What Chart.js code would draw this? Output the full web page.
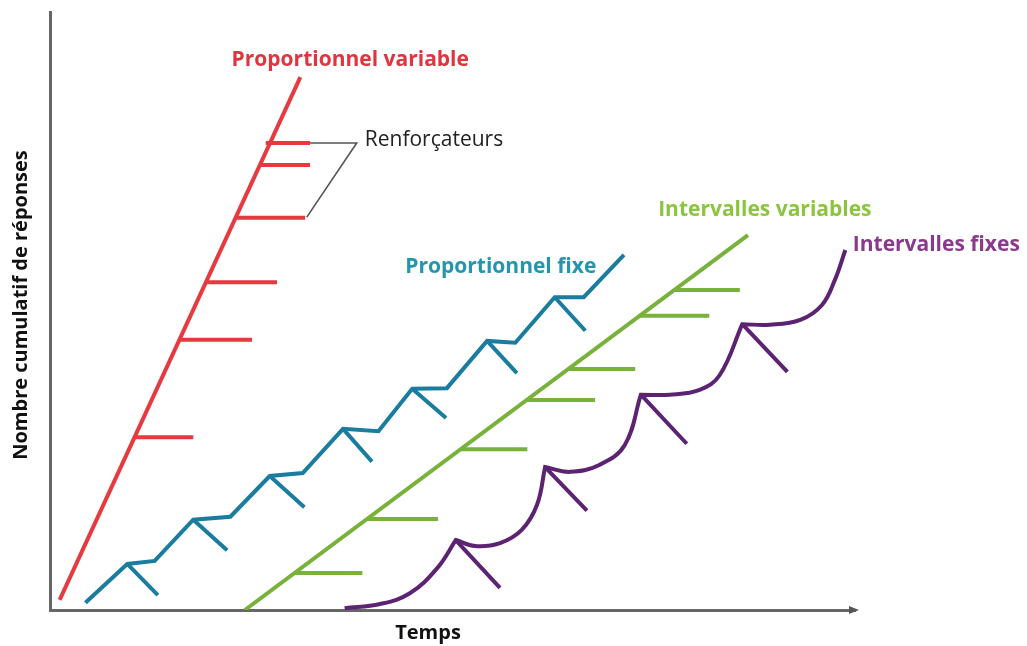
<!DOCTYPE html>
<html lang="fr">
<head>
    <meta charset="UTF-8">
    <title>Programmes de renforcement</title>
    <script src="https://cdn.jsdelivr.net/npm/chart.js"></script>
    <style>
        html, body {
            margin: 0;
            padding: 0;
            background: #ffffff;
        }
        .wrap {
            width: 1027px;
            height: 646px;
            position: relative;
        }
    </style>
</head>
<body>
    <div class="wrap">
        <canvas id="schedules"></canvas>
    </div>

    <script>
        // Temps (x) et nombre cumulatif de réponses (y), unités arbitraires 0-100

        // Proportionnel variable
        const pvTime = [1.2, 31.1];
        const pvResp = [1.7, 89.1];
        const pvReinfTime0 = [10.5, 16.1, 19.4, 23.0, 26.0, 26.8];
        const pvReinfTime1 = [17.8, 25.1, 28.2, 31.7, 32.3, 32.3];
        const pvReinfResp = [28.9, 45.2, 54.8, 65.6, 74.4, 78.1];

        // Proportionnel fixe
        const pfTime = [4.4, 9.6, 13.0, 17.8, 22.4, 27.3, 31.4, 36.4, 40.8, 45.0, 49.3, 54.3, 57.8, 62.7, 66.3, 71.3];
        const pfResp = [1.2, 7.7, 8.2, 15.1, 15.6, 22.4, 22.9, 30.3, 29.9, 37.0, 37.1, 45.0, 44.7, 52.3, 52.3, 59.4];
        const pfReinfTime0 = [9.6, 17.8, 27.3, 36.4, 45.0, 54.3, 62.7];
        const pfReinfResp0 = [7.7, 15.1, 22.4, 30.3, 37.0, 45.0, 52.3];
        const pfReinfTime1 = [13.4, 22.0, 31.6, 40.0, 49.2, 58.0, 66.5];
        const pfReinfResp1 = [2.5, 10.0, 17.2, 24.8, 32.1, 39.6, 46.7];

        // Intervalles variables
        const ivTime = [24.2, 86.7];
        const ivResp = [0.0, 62.7];
        const ivReinfTime0 = [30.4, 39.4, 51.1, 59.2, 64.4, 73.2, 77.5];
        const ivReinfTime1 = [38.8, 48.2, 59.3, 67.7, 72.7, 81.9, 85.7];
        const ivReinfResp = [6.2, 15.2, 26.9, 35.1, 40.3, 49.2, 53.5];

        // Intervalles fixes (chaque renforcement est répété pour garder la pointe)
        const ifTime = [36.6, 41.0, 44.7, 48.1, 50.4, 50.4, 52.8, 55.9, 58.6, 60.5, 61.5, 61.5, 64.6, 68.3, 71.4, 73.4, 73.4, 77.0, 80.7, 83.2, 86.0, 86.0, 89.4, 93.2, 95.9, 97.5, 98.8];
        const ifResp = [0.3, 1.0, 2.8, 7.0, 11.7, 11.7, 10.7, 11.2, 13.4, 17.6, 23.9, 23.9, 23.1, 24.3, 27.6, 36.0, 36.0, 36.0, 36.8, 39.3, 47.8, 47.8, 47.7, 48.5, 51.0, 55.2, 60.2];
        const ifReinfTime0 = [50.4, 61.5, 73.4, 86.0];
        const ifReinfResp0 = [11.7, 23.9, 36.0, 47.8];
        const ifReinfTime1 = [55.9, 66.7, 79.1, 91.6];
        const ifReinfResp1 = [3.7, 16.6, 27.8, 39.8];

        // Renvoi "Renforçateurs"
        const calloutTime = [32.3, 38.1, 31.9];
        const calloutResp = [78.1, 78.1, 65.7];

        const RED = '#e53a3f';
        const BLUE = '#1a7d9f';
        const GREEN = '#79b23b';
        const PURPLE = '#5c2373';

        function toPoints(xs, ys) {
            return xs.map((x, i) => ({ x: x, y: ys[i] }));
        }

        // petits traits séparés par des trous
        function toSegments(x0, y0, x1, y1) {
            const pts = [];
            for (let i = 0; i < x0.length; i++) {
                pts.push({ x: x0[i], y: y0[i] });
                pts.push({ x: x1[i], y: y1[i] });
                pts.push({ x: x1[i], y: null });
            }
            return pts;
        }

        function lineSet(label, data, color, width, tension) {
            return {
                label: label,
                data: data,
                borderColor: color,
                borderWidth: width,
                tension: tension || 0,
                pointRadius: 0,
                spanGaps: false,
                borderCapStyle: 'butt',
                borderJoinStyle: 'miter',
                fill: false
            };
        }

        const LABEL_FONT = 'bold 21px "Open Sans"';
        const textLabels = [
            { text: 'Proportionnel variable', x: 37.3, y: 92.0, color: '#e0343f' },
            { text: 'Proportionnel fixe', x: 56.0, y: 57.4, color: '#2395ad' },
            { text: 'Intervalles variables', x: 88.8, y: 66.9, color: '#8cc43f' },
            { text: 'Intervalles fixes', x: 110.1, y: 61.0, color: '#8a3a8c' }
        ];

        const drawExtras = {
            id: 'drawExtras',
            afterDraw(chart) {
                const ctx = chart.ctx;
                const xs = chart.scales.x;
                const ys = chart.scales.y;
                const area = chart.chartArea;
                ctx.save();

                // flèche au bout de l'axe du temps
                ctx.fillStyle = '#555';
                ctx.beginPath();
                ctx.moveTo(area.right + 4, area.bottom);
                ctx.lineTo(area.right - 6, area.bottom - 4);
                ctx.lineTo(area.right - 6, area.bottom + 4);
                ctx.closePath();
                ctx.fill();

                ctx.textAlign = 'center';
                ctx.textBaseline = 'middle';
                ctx.font = LABEL_FONT;
                textLabels.forEach(l => {
                    ctx.fillStyle = l.color;
                    ctx.fillText(l.text, xs.getPixelForValue(l.x), ys.getPixelForValue(l.y));
                });

                ctx.font = '21px "Open Sans"';
                ctx.fillStyle = '#222';
                ctx.textAlign = 'left';
                ctx.fillText('Renforçateurs', xs.getPixelForValue(39.1), ys.getPixelForValue(78.6));

                // titres des axes
                ctx.fillStyle = '#111';
                ctx.font = 'bold 20px "Open Sans"';
                ctx.textAlign = 'center';
                ctx.fillText('Temps', 428, 633);
                ctx.translate(21, 305);
                ctx.rotate(-Math.PI / 2);
                ctx.fillText('Nombre cumulatif de réponses', 0, 0);
                ctx.restore();
            }
        };

        const ctx = document.getElementById('schedules').getContext('2d');
        new Chart(ctx, {
            type: 'line',
            data: {
                datasets: [
                    lineSet('Renforçateurs', toPoints(calloutTime, calloutResp), '#555', 1.6),
                    lineSet('Proportionnel variable', toPoints(pvTime, pvResp), RED, 4),
                    lineSet('PV renforcements', toSegments(pvReinfTime0, pvReinfResp, pvReinfTime1, pvReinfResp), RED, 4),
                    lineSet('Proportionnel fixe', toPoints(pfTime, pfResp), BLUE, 4),
                    lineSet('PF renforcements', toSegments(pfReinfTime0, pfReinfResp0, pfReinfTime1, pfReinfResp1), BLUE, 4),
                    lineSet('Intervalles variables', toPoints(ivTime, ivResp), GREEN, 4),
                    lineSet('IV renforcements', toSegments(ivReinfTime0, ivReinfResp, ivReinfTime1, ivReinfResp), GREEN, 4),
                    lineSet('Intervalles fixes', toPoints(ifTime, ifResp), PURPLE, 4, 0.4),
                    lineSet('IF renforcements', toSegments(ifReinfTime0, ifReinfResp0, ifReinfTime1, ifReinfResp1), PURPLE, 4)
                ]
            },
            options: {
                responsive: true,
                maintainAspectRatio: false,
                animation: false,
                layout: {
                    padding: { left: 50, top: 12, right: 172, bottom: 36 }
                },
                plugins: {
                    legend: { display: false },
                    tooltip: { enabled: false }
                },
                scales: {
                    x: {
                        type: 'linear',
                        min: 0,
                        max: 100,
                        ticks: { display: false },
                        grid: { display: false, drawTicks: false },
                        border: { display: true, color: '#666', width: 3 }
                    },
                    y: {
                        type: 'linear',
                        min: 0,
                        max: 100,
                        ticks: { display: false },
                        grid: { display: false, drawTicks: false },
                        border: { display: true, color: '#666', width: 3 }
                    }
                }
            },
            plugins: [drawExtras]
        });
    </script>
</body>
</html>
